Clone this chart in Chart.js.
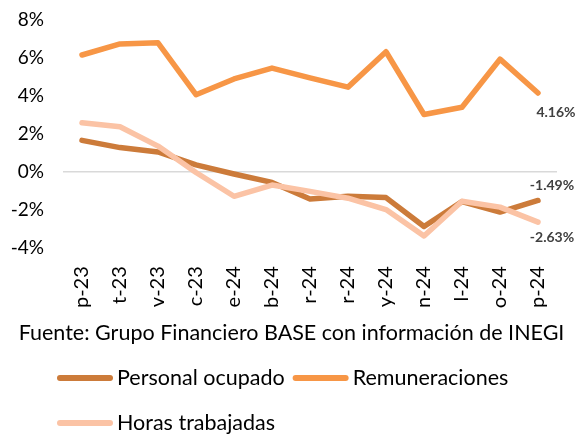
<!DOCTYPE html>
<html lang="es">
<head>
    <meta charset="UTF-8">
    <title>Personal ocupado, remuneraciones y horas trabajadas</title>
    <script src="https://cdn.jsdelivr.net/npm/chart.js"></script>
    <style>
        body {
            margin: 0;
            background: #ffffff;
        }
        .wrap {
            position: relative;
            width: 583px;
            height: 434px;
        }
    </style>
</head>
<body>
    <div class="wrap">
        <canvas id="chart"></canvas>
    </div>

    <script>
        // etiquetas del eje x tal como se ven (recortadas en el original)
        const months = ["p-23", "t-23", "v-23", "c-23", "e-24", "b-24", "r-24", "r-24", "y-24", "n-24", "l-24", "o-24", "p-24"];
        const personalOcupado = [1.67, 1.29, 1.06, 0.38, -0.10, -0.54, -1.41, -1.27, -1.34, -2.86, -1.55, -2.10, -1.49];
        const remuneraciones = [6.16, 6.74, 6.80, 4.07, 4.90, 5.47, 4.96, 4.47, 6.33, 3.03, 3.41, 5.94, 4.16];
        const horasTrabajadas = [2.60, 2.39, 1.37, -0.02, -1.27, -0.68, -1.01, -1.37, -1.97, -3.36, -1.53, -1.84, -2.63];
        const yTicks = [-4, -2, 0, 2, 4, 6, 8];
        const source = "Fuente: Grupo Financiero BASE con información de INEGI";

        const FONT = "Lato, 'Open Sans', sans-serif";

        // etiqueta del ultimo valor de cada serie
        const lastLabels = {
            id: "lastLabels",
            afterDatasetsDraw(chart) {
                const ctx = chart.ctx;
                ctx.save();
                ctx.font = "bold 14px " + FONT;
                ctx.fillStyle = "#404040";
                ctx.textAlign = "center";
                ctx.textBaseline = "middle";
                chart.data.datasets.forEach((ds, i) => {
                    const meta = chart.getDatasetMeta(i);
                    const pt = meta.data[meta.data.length - 1];
                    const v = ds.data[ds.data.length - 1];
                    ctx.fillText(v.toFixed(2) + "%", pt.x + ds.labelDx, pt.y + ds.labelDy);
                });
                ctx.restore();
            }
        };

        // leyenda con lineas, dos por renglon
        const lineLegend = {
            id: "lineLegend",
            afterDraw(chart) {
                const ctx = chart.ctx;
                ctx.save();
                ctx.font = "21.5px " + FONT;
                ctx.fillStyle = "#000000";
                ctx.textBaseline = "middle";
                ctx.textAlign = "left";
                const rowsY = [378, 423];
                let x = 57;
                chart.data.datasets.forEach((ds, i) => {
                    const row = Math.floor(i / 2);
                    if (i % 2 === 0) x = 57;
                    const y = rowsY[row];
                    ctx.strokeStyle = ds.borderColor;
                    ctx.lineWidth = 6;
                    ctx.lineCap = "round";
                    ctx.beginPath();
                    ctx.moveTo(x + 3, y);
                    ctx.lineTo(x + 53, y);
                    ctx.stroke();
                    ctx.fillText(ds.label, x + 60, y);
                    x += 60 + ctx.measureText(ds.label).width + 8;
                });
                ctx.restore();
            }
        };

        new Chart(document.getElementById("chart"), {
            type: "line",
            data: {
                labels: months,
                datasets: [
                    {
                        label: "Personal ocupado",
                        data: personalOcupado,
                        borderColor: "#CC7B3A",
                        order: 2,
                        labelDx: 14,
                        labelDy: -15
                    },
                    {
                        label: "Remuneraciones",
                        data: remuneraciones,
                        borderColor: "#F79646",
                        order: 1,
                        labelDx: 18,
                        labelDy: 19
                    },
                    {
                        label: "Horas trabajadas",
                        data: horasTrabajadas,
                        borderColor: "#FBC3A5",
                        order: 0,
                        labelDx: 14,
                        labelDy: 15
                    }
                ]
            },
            options: {
                responsive: true,
                maintainAspectRatio: false,
                animation: false,
                events: [],
                elements: {
                    line: {
                        borderWidth: 5.5,
                        tension: 0,
                        borderCapStyle: "round",
                        borderJoinStyle: "round",
                        fill: false
                    },
                    point: { radius: 0 }
                },
                layout: {
                    padding: { top: 20, right: 0, left: 0, bottom: 88 }
                },
                plugins: {
                    legend: { display: false },
                    tooltip: { enabled: false },
                    title: {
                        display: true,
                        position: "bottom",
                        text: source,
                        color: "#000000",
                        font: { family: FONT, size: 21.5, weight: "normal" },
                        padding: { top: 6, bottom: 0 }
                    }
                },
                scales: {
                    x: {
                        offset: true,
                        grid: { display: false, drawTicks: false },
                        border: { display: false },
                        afterFit(scale) { scale.height = 66; },
                        ticks: {
                            autoSkip: false,
                            minRotation: 90,
                            maxRotation: 90,
                            padding: 18,
                            color: "#000000",
                            font: { family: FONT, size: 20 }
                        }
                    },
                    y: {
                        min: yTicks[0],
                        max: yTicks[yTicks.length - 1],
                        afterFit(scale) {
                            scale.width = 63;
                            scale.paddingTop = 0;
                            scale.paddingBottom = 0;
                        },
                        afterBuildTicks(scale) {
                            scale.ticks = yTicks.map(v => ({ value: v }));
                        },
                        border: { display: false },
                        grid: {
                            drawTicks: false,
                            lineWidth: 1.5,
                            color: ctx => ctx.tick && ctx.tick.value === 0 ? "#D9D9D9" : "rgba(0,0,0,0)"
                        },
                        ticks: {
                            padding: 19,
                            color: "#000000",
                            font: { family: FONT, size: 19 },
                            callback: v => v + "%"
                        }
                    },
                    // margen derecho vacio
                    yRight: {
                        position: "right",
                        min: yTicks[0],
                        max: yTicks[yTicks.length - 1],
                        afterFit(scale) {
                            scale.width = 26;
                            scale.paddingTop = 0;
                            scale.paddingBottom = 0;
                        },
                        border: { display: false },
                        grid: { display: false, drawTicks: false },
                        ticks: { display: false }
                    }
                }
            },
            plugins: [lastLabels, lineLegend]
        });
    </script>
</body>
</html>
